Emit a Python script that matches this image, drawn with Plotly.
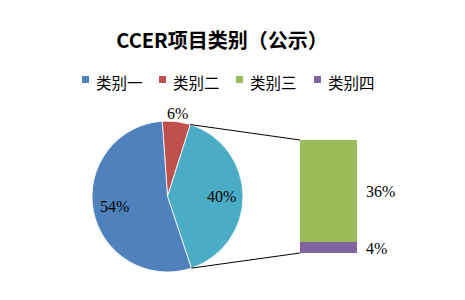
import math
import plotly.graph_objects as go

# ---- data ----
title_text = "CCER项目类别（公示）"
categories = ["类别一", "类别二", "类别三", "类别四"]
values = [54, 6, 36, 4]
colors = ["#4F81BD", "#C0504D", "#9BBB59", "#8064A2"]
other_color = "#4BACC6"
pie_labels = ["类别二", "其他", "类别一"]
pie_values = [values[1], values[2] + values[3], values[0]]
pie_colors = [colors[1], other_color, colors[0]]
pie_rotation = -4

W, H = 465, 300
pie_box = (92, 121, 243, 272)  # px left, top, right, bottom
bar_box = (300, 140, 357, 253)

def px2x(px):
    return px / W

def py2y(py):
    return 1 - py / H

serif = "Liberation Serif"
cjk = "Noto Sans CJK SC"
fig = go.Figure()

fig.add_trace(go.Pie(
    labels=pie_labels, values=pie_values, sort=False, direction="clockwise",
    rotation=pie_rotation,
    marker=dict(colors=pie_colors, line=dict(color="white", width=0.8)),
    domain=dict(x=[px2x(pie_box[0]), px2x(pie_box[2])], y=[py2y(pie_box[3]), py2y(pie_box[1])]),
    textinfo="none", showlegend=False, hoverinfo="label+percent",
))

# pie labels
cx = (pie_box[0] + pie_box[2]) / 2
cy = (pie_box[1] + pie_box[3]) / 2
R = (pie_box[2] - pie_box[0]) / 2
total = sum(pie_values)
label_r = [1.11, 0.72, 0.71]
start = pie_rotation
for v, rr in zip(pie_values, label_r):
    mid = math.radians(start + 180 * v / total)
    start += 360 * v / total
    lx = cx + rr * R * math.sin(mid)
    ly = cy - rr * R * math.cos(mid)
    fig.add_annotation(x=px2x(lx), y=py2y(ly), xref="paper", yref="paper",
                       text=f"{round(100 * v / total)}%", showarrow=False,
                       xanchor="center", yanchor="middle",
                       font=dict(family=serif, size=16, color="black"))

# bar of "other"
bar_cats = categories[2:]
bar_vals = values[2:]
bar_cols = colors[2:]
cum = 0
for name, v, c in zip(bar_cats[::-1], bar_vals[::-1], bar_cols[::-1]):
    fig.add_trace(go.Bar(x=[0], y=[v], name=name, marker=dict(color=c, line=dict(width=0)),
                         width=1, showlegend=False))
    fig.add_annotation(x=0.5, y=cum + v / 2, xref="x", yref="y", text=f"{v}%",
                       showarrow=False, xanchor="left", yanchor="middle", xshift=7, yshift=-1,
                       font=dict(family=serif, size=16, color="black"))
    cum += v

# legend (manual)
leg_sq_x = [82, 159, 236, 314]
leg_y = 79.5
for name, c, sx in zip(categories, colors, leg_sq_x):
    fig.add_shape(type="rect", xref="paper", yref="paper",
                  x0=px2x(sx), x1=px2x(sx + 7), y0=py2y(leg_y + 3.5), y1=py2y(leg_y - 3.5),
                  fillcolor=c, line=dict(width=0))
    fig.add_annotation(x=px2x(sx + 12), y=py2y(leg_y + 2), xref="paper", yref="paper",
                       text=name, showarrow=False, xanchor="left", yanchor="middle",
                       font=dict(family=cjk, size=15.5, color="black"))

# connector lines
a1 = math.radians(pie_rotation + 360 * pie_values[0] / total)
a2 = math.radians(pie_rotation + 360 * (pie_values[0] + pie_values[1]) / total)
p1 = (cx + R * math.sin(a1), cy - R * math.cos(a1))
p2 = (cx + R * math.sin(a2), cy - R * math.cos(a2))
for (px, py), (bx, by) in [(p1, (bar_box[0], bar_box[1])), (p2, (bar_box[0], bar_box[3]))]:
    fig.add_shape(type="line", xref="paper", yref="paper",
                  x0=px2x(px), y0=py2y(py), x1=px2x(bx), y1=py2y(by),
                  line=dict(color="black", width=1))

fig.update_layout(
    width=W, height=H, margin=dict(l=0, r=0, t=0, b=0),
    paper_bgcolor="white", plot_bgcolor="white",
    barmode="stack", bargap=0, showlegend=False,
    title=dict(text=f"<b>{title_text}</b>", x=222 / W, xanchor="center", y=py2y(41), yanchor="middle",
               font=dict(family=cjk, size=20, color="black")),
    xaxis=dict(domain=[px2x(bar_box[0]), px2x(bar_box[2])], range=[-0.5, 0.5], visible=False, fixedrange=True),
    yaxis=dict(domain=[py2y(bar_box[3]), py2y(bar_box[1])], range=[0, 40], visible=False, fixedrange=True),
)

fig.write_html("out.html")
